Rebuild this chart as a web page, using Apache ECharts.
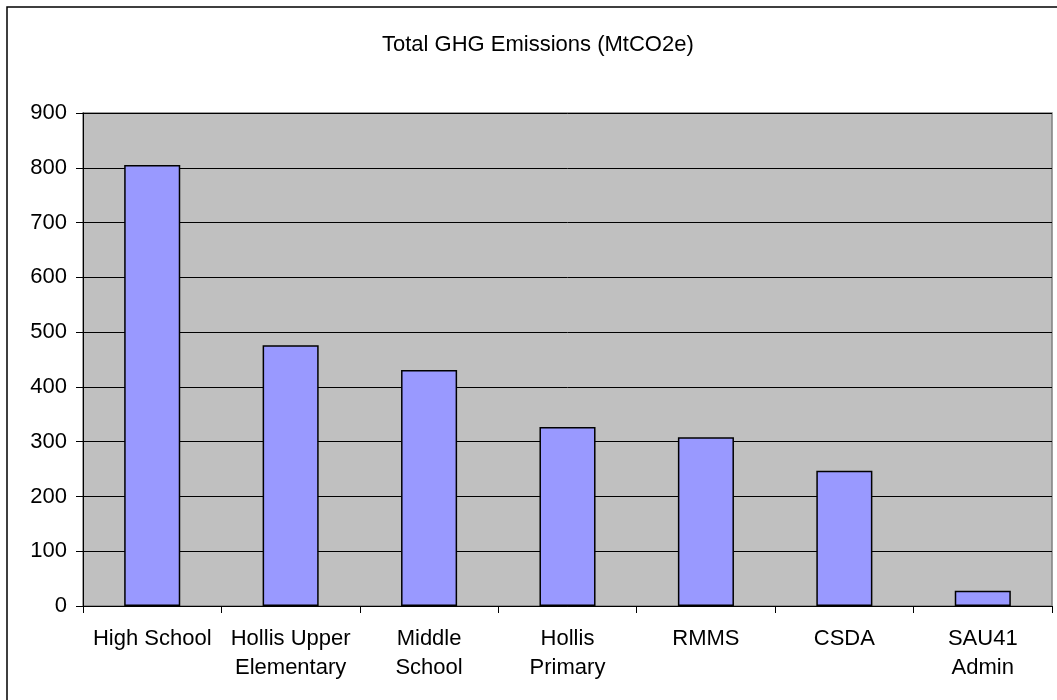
<!DOCTYPE html>
<html>
<head>
<meta charset="utf-8">
<script src="https://cdn.jsdelivr.net/npm/echarts@6/dist/echarts.min.js"></script>
<style>html,body{margin:0;padding:0;background:#fff;}#c{width:1057px;height:700px;}</style>
</head>
<body>
<div id="c"></div>
<script>
const titleText = 'Total GHG Emissions (MtCO2e)';
const categories = ['High School', 'Hollis Upper\nElementary', 'Middle\nSchool', 'Hollis\nPrimary', 'RMMS', 'CSDA', 'SAU41\nAdmin'];
const emissions = [805, 476, 431, 327, 308, 247, 28];
const yTicks = { min: 0, max: 900, interval: 100 };

const FONT = '"Liberation Sans", Arial, sans-serif';
const chart = echarts.init(document.getElementById('c'), null, { renderer: 'canvas' });
chart.setOption({
  backgroundColor: '#ffffff',
  animation: false,
  title: {
    text: titleText,
    left: 377,
    top: 29,
    textStyle: { fontFamily: FONT, fontSize: 22, fontWeight: 'normal', color: '#000', lineHeight: 22 }
  },
  graphic: [{
    type: 'rect',
    shape: { x: 7, y: 7, width: 1100, height: 800 },
    style: { fill: 'none', stroke: '#000', lineWidth: 1.5 },
    silent: true
  }],
  grid: {
    left: 83, right: 5, top: 113, bottom: 94,
    show: true, backgroundColor: '#C0C0C0', borderColor: '#808080', borderWidth: 1.5
  },
  xAxis: {
    type: 'category',
    data: categories,
    axisLine: { show: true, lineStyle: { color: '#000', width: 1 } },
    axisTick: { show: true, alignWithLabel: false, length: 7, lineStyle: { color: '#000' } },
    axisLabel: { fontFamily: FONT, fontSize: 22, color: '#000', lineHeight: 29, margin: 18, interval: 0 },
    splitLine: { show: false }
  },
  yAxis: {
    type: 'value',
    min: yTicks.min, max: yTicks.max, interval: yTicks.interval,
    axisLine: { show: true, lineStyle: { color: '#000', width: 1 } },
    axisTick: { show: true, length: 7, lineStyle: { color: '#000' } },
    axisLabel: { fontFamily: FONT, fontSize: 22, color: '#000', margin: 16 },
    splitLine: { show: true, lineStyle: { color: '#000', width: 1 } }
  },
  series: [{
    type: 'bar',
    data: emissions,
    barWidth: '40.5%',
    itemStyle: { color: '#9999FF', borderColor: '#000', borderWidth: 1.5 }
  }]
});
</script>
</body>
</html>
